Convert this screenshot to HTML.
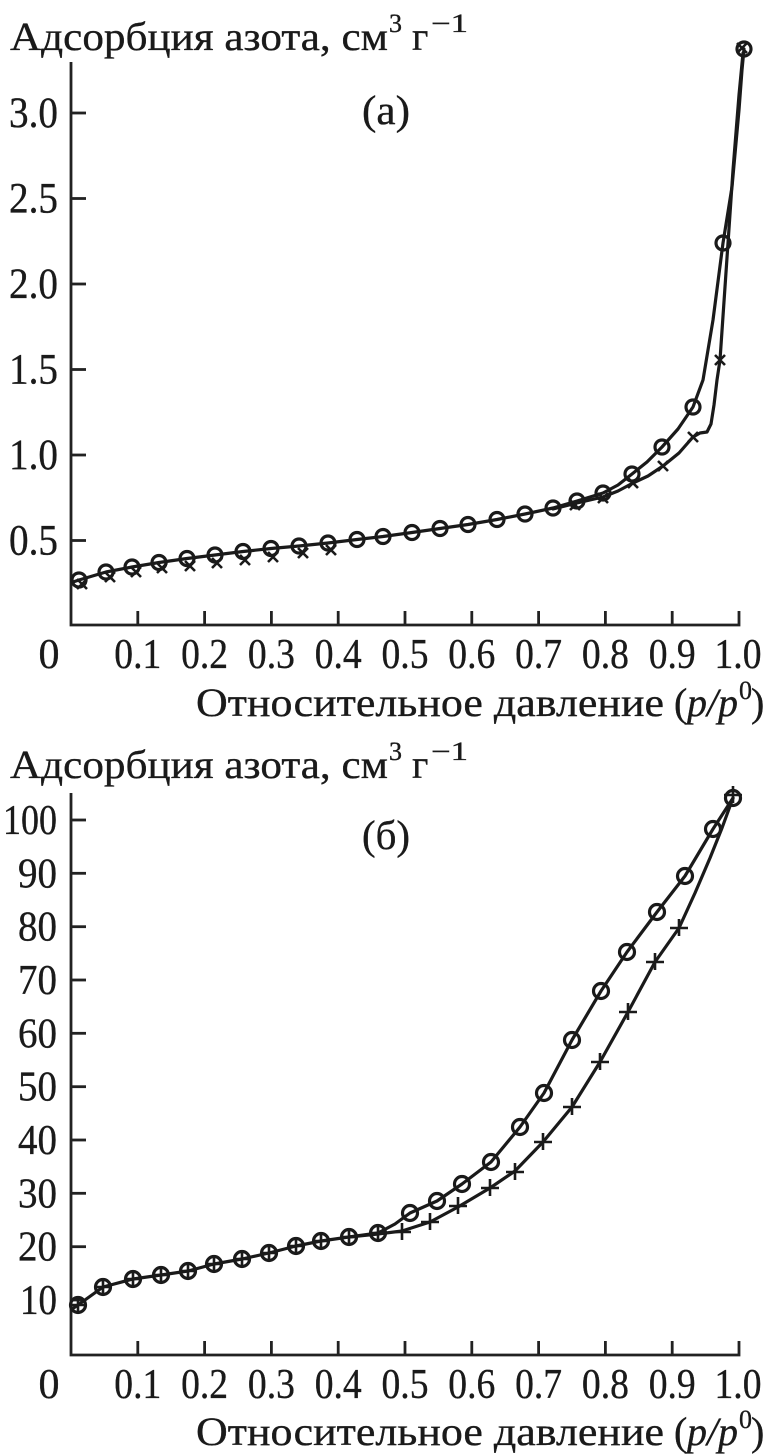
<!DOCTYPE html>
<html>
<head>
<meta charset="utf-8">
<style>
html,body{margin:0;padding:0;background:#fff;}
svg{display:block;}
text{font-family:"Liberation Serif","DejaVu Serif",serif;fill:#1a1a1a;stroke:#1a1a1a;stroke-width:0.35;}
</style>
</head>
<body>
<svg width="765" height="1455" viewBox="0 0 765 1455" xmlns="http://www.w3.org/2000/svg">
<g stroke="#222" stroke-width="2.8" fill="none" stroke-linecap="butt">
  <polyline points="71,62 71,625 739,625 739,611"/>
  <line x1="71" y1="113" x2="86" y2="113"/>
  <line x1="71" y1="198.5" x2="86" y2="198.5"/>
  <line x1="71" y1="284" x2="86" y2="284"/>
  <line x1="71" y1="369.5" x2="86" y2="369.5"/>
  <line x1="71" y1="455" x2="86" y2="455"/>
  <line x1="71" y1="540.5" x2="86" y2="540.5"/>
  <line x1="137.8" y1="625" x2="137.8" y2="611"/>
  <line x1="204.6" y1="625" x2="204.6" y2="611"/>
  <line x1="271.4" y1="625" x2="271.4" y2="611"/>
  <line x1="338.2" y1="625" x2="338.2" y2="611"/>
  <line x1="405" y1="625" x2="405" y2="611"/>
  <line x1="471.8" y1="625" x2="471.8" y2="611"/>
  <line x1="538.6" y1="625" x2="538.6" y2="611"/>
  <line x1="605.4" y1="625" x2="605.4" y2="611"/>
  <line x1="672.2" y1="625" x2="672.2" y2="611"/>

  <polyline points="71,793 71,1355 739,1355 739,1341"/>
  <line x1="71" y1="820" x2="86" y2="820"/>
  <line x1="71" y1="873.3" x2="86" y2="873.3"/>
  <line x1="71" y1="926.7" x2="86" y2="926.7"/>
  <line x1="71" y1="980" x2="86" y2="980"/>
  <line x1="71" y1="1033.3" x2="86" y2="1033.3"/>
  <line x1="71" y1="1086.7" x2="86" y2="1086.7"/>
  <line x1="71" y1="1140" x2="86" y2="1140"/>
  <line x1="71" y1="1193.3" x2="86" y2="1193.3"/>
  <line x1="71" y1="1246.7" x2="86" y2="1246.7"/>
  <line x1="71" y1="1300" x2="86" y2="1300"/>
  <line x1="137.8" y1="1355" x2="137.8" y2="1341"/>
  <line x1="204.6" y1="1355" x2="204.6" y2="1341"/>
  <line x1="271.4" y1="1355" x2="271.4" y2="1341"/>
  <line x1="338.2" y1="1355" x2="338.2" y2="1341"/>
  <line x1="405" y1="1355" x2="405" y2="1341"/>
  <line x1="471.8" y1="1355" x2="471.8" y2="1341"/>
  <line x1="538.6" y1="1355" x2="538.6" y2="1341"/>
  <line x1="605.4" y1="1355" x2="605.4" y2="1341"/>
  <line x1="672.2" y1="1355" x2="672.2" y2="1341"/>
</g>

<g stroke="#1a1a1a" stroke-width="3.2" fill="none" stroke-linejoin="round" stroke-linecap="round">
  <polyline points="73,582 79,580 106,572 132,567 159,562.5 187,558.5 215,555 243,551.5 271,548.5 299,546 328,543 357,539.5 383,536.5 412,532.5 440,528.5 468,524.5 497,519.5 525,514 553,508 577,501 603,493 618,485 632,474 647,462 662,447 678,429 693,407 703,380 713,320 723,243 732,187 739,110 742,70 744,49"/>
  <polyline points="553,509 577,503 603,497 618,491 633,483 648,476 663,466 679,453 693,437 700,433 707,432 711,424 714,405 717,380 720,360 725,287 733,170 739,95 743,53"/>
</g>
<g stroke="#1a1a1a" stroke-width="3.2" fill="none">
  <circle cx="79" cy="580" r="7"/>
  <circle cx="106" cy="572" r="7"/>
  <circle cx="132" cy="567" r="7"/>
  <circle cx="159" cy="562.5" r="7"/>
  <circle cx="187" cy="558.5" r="7"/>
  <circle cx="215" cy="555" r="7"/>
  <circle cx="243" cy="551.5" r="7"/>
  <circle cx="271" cy="548.5" r="7"/>
  <circle cx="299" cy="546" r="7"/>
  <circle cx="328" cy="543" r="7"/>
  <circle cx="357" cy="539.5" r="7"/>
  <circle cx="383" cy="536.5" r="7"/>
  <circle cx="412" cy="532.5" r="7"/>
  <circle cx="440" cy="528.5" r="7"/>
  <circle cx="468" cy="524.5" r="7"/>
  <circle cx="497" cy="519.5" r="7"/>
  <circle cx="525" cy="514" r="7"/>
  <circle cx="553" cy="508" r="7"/>
  <circle cx="577" cy="501" r="7"/>
  <circle cx="603" cy="493" r="7"/>
  <circle cx="632" cy="474" r="7"/>
  <circle cx="662" cy="447" r="7"/>
  <circle cx="693" cy="407" r="7"/>
  <circle cx="723" cy="243" r="7"/>
  <circle cx="744" cy="49" r="7"/>
</g>
<g stroke="#1a1a1a" stroke-width="2.6" fill="none">
  <path d="M77,579 l10,10 M87,579 l-10,10"/>
  <path d="M105,572 l10,10 M115,572 l-10,10"/>
  <path d="M131,567 l10,10 M141,567 l-10,10"/>
  <path d="M157,563 l10,10 M167,563 l-10,10"/>
  <path d="M185,561 l10,10 M195,561 l-10,10"/>
  <path d="M212,558 l10,10 M222,558 l-10,10"/>
  <path d="M240,555 l10,10 M250,555 l-10,10"/>
  <path d="M268,552 l10,10 M278,552 l-10,10"/>
  <path d="M298,548 l10,10 M308,548 l-10,10"/>
  <path d="M326,545 l10,10 M336,545 l-10,10"/>
  <path d="M570,500 l10,10 M580,500 l-10,10"/>
  <path d="M598,493 l10,10 M608,493 l-10,10"/>
  <path d="M628,478 l10,10 M638,478 l-10,10"/>
  <path d="M658,461 l10,10 M668,461 l-10,10"/>
  <path d="M688,432 l10,10 M698,432 l-10,10"/>
  <path d="M715,355 l10,10 M725,355 l-10,10"/>
  <path d="M737,43 l10,10 M747,43 l-10,10"/>
</g>

<g stroke="#1a1a1a" stroke-width="3.2" fill="none" stroke-linejoin="round" stroke-linecap="round">
  <polyline points="72,1309 78,1305 103,1287 133,1279 161,1275 188,1271 214,1264 242,1259 269,1253 296,1246 321,1241 349,1237 378,1233 395,1224 410,1213 437,1201 462,1184 491,1162 520,1127 544,1093 572,1040 601,991 627,952 657,912 685,876 713,829 733,798"/>
  <polyline points="349,1237 378,1234 402,1231 430,1222 458,1207 490,1188 515,1171 543,1142 572,1107 600,1062 628,1012 655,962 679,928 695,893 710,858 722,828 733,798"/>
</g>
<g stroke="#1a1a1a" stroke-width="3.2" fill="none">
  <circle cx="78" cy="1305" r="7.5"/>
  <circle cx="103" cy="1287" r="7.5"/>
  <circle cx="133" cy="1279" r="7.5"/>
  <circle cx="161" cy="1275" r="7.5"/>
  <circle cx="188" cy="1271" r="7.5"/>
  <circle cx="214" cy="1264" r="7.5"/>
  <circle cx="242" cy="1259" r="7.5"/>
  <circle cx="269" cy="1253" r="7.5"/>
  <circle cx="296" cy="1246" r="7.5"/>
  <circle cx="321" cy="1241" r="7.5"/>
  <circle cx="349" cy="1237" r="7.5"/>
  <circle cx="378" cy="1233" r="7.5"/>
  <circle cx="410" cy="1213" r="7.5"/>
  <circle cx="437" cy="1201" r="7.5"/>
  <circle cx="462" cy="1184" r="7.5"/>
  <circle cx="491" cy="1162" r="7.5"/>
  <circle cx="520" cy="1127" r="7.5"/>
  <circle cx="544" cy="1093" r="7.5"/>
  <circle cx="572" cy="1040" r="7.5"/>
  <circle cx="601" cy="991" r="7.5"/>
  <circle cx="627" cy="952" r="7.5"/>
  <circle cx="657" cy="912" r="7.5"/>
  <circle cx="685" cy="876" r="7.5"/>
  <circle cx="713" cy="829" r="7.5"/>
  <circle cx="733" cy="798" r="7.5"/>
</g>
<g stroke="#1a1a1a" stroke-width="2.6" fill="none">
  <path d="M78,1299 v12 M72,1305 h12"/>
  <path d="M103,1281 v12 M97,1287 h12"/>
  <path d="M133,1273 v12 M127,1279 h12"/>
  <path d="M161,1269 v12 M155,1275 h12"/>
  <path d="M188,1265 v12 M182,1271 h12"/>
  <path d="M214,1258 v12 M208,1264 h12"/>
  <path d="M242,1253 v12 M236,1259 h12"/>
  <path d="M269,1247 v12 M263,1253 h12"/>
  <path d="M296,1240 v12 M290,1246 h12"/>
  <path d="M321,1235 v12 M315,1241 h12"/>
  <path d="M349,1231 v12 M343,1237 h12"/>
  <path d="M378,1227 v12 M372,1233 h12"/>
  <path d="M402,1223 v17 M393,1232 h18"/>
  <path d="M430,1213 v17 M421,1222 h18"/>
  <path d="M458,1197 v17 M449,1206 h18"/>
  <path d="M490,1179 v17 M481,1188 h18"/>
  <path d="M515,1163 v17 M506,1172 h18"/>
  <path d="M543,1133 v17 M534,1142 h18"/>
  <path d="M572,1098 v17 M563,1107 h18"/>
  <path d="M600,1053 v17 M591,1062 h18"/>
  <path d="M628,1003 v17 M619,1012 h18"/>
  <path d="M655,953 v17 M646,962 h18"/>
  <path d="M679,919 v17 M670,928 h18"/>
  <path d="M733,786 v17 M724,795 h18"/>
</g>

<!-- Top chart text -->
<text x="10" y="50" font-size="40" textLength="378" lengthAdjust="spacingAndGlyphs">Адсорбция азота, см</text>
<text x="389" y="32" font-size="26">3</text>
<text x="412" y="50" font-size="40">г</text>
<text x="431" y="32" font-size="26" textLength="37" lengthAdjust="spacingAndGlyphs">−1</text>
<text x="362" y="124" font-size="41" textLength="48" lengthAdjust="spacingAndGlyphs">(а)</text>

<g font-size="43" text-anchor="end">
  <text x="58" y="127" textLength="49" lengthAdjust="spacingAndGlyphs">3.0</text>
  <text x="58" y="212.5" textLength="49" lengthAdjust="spacingAndGlyphs">2.5</text>
  <text x="58" y="298" textLength="49" lengthAdjust="spacingAndGlyphs">2.0</text>
  <text x="58" y="383.5" textLength="49" lengthAdjust="spacingAndGlyphs">1.5</text>
  <text x="58" y="469" textLength="49" lengthAdjust="spacingAndGlyphs">1.0</text>
  <text x="58" y="554.5" textLength="49" lengthAdjust="spacingAndGlyphs">0.5</text>
</g>
<g font-size="42" text-anchor="middle">
  <text x="49" y="668">0</text>
  <text x="137.8" y="668" textLength="47" lengthAdjust="spacingAndGlyphs">0.1</text>
  <text x="204.6" y="668" textLength="47" lengthAdjust="spacingAndGlyphs">0.2</text>
  <text x="271.4" y="668" textLength="47" lengthAdjust="spacingAndGlyphs">0.3</text>
  <text x="338.2" y="668" textLength="47" lengthAdjust="spacingAndGlyphs">0.4</text>
  <text x="405" y="668" textLength="47" lengthAdjust="spacingAndGlyphs">0.5</text>
  <text x="471.8" y="668" textLength="47" lengthAdjust="spacingAndGlyphs">0.6</text>
  <text x="538.6" y="668" textLength="47" lengthAdjust="spacingAndGlyphs">0.7</text>
  <text x="605.4" y="668" textLength="47" lengthAdjust="spacingAndGlyphs">0.8</text>
  <text x="672.2" y="668" textLength="47" lengthAdjust="spacingAndGlyphs">0.9</text>
  <text x="738" y="668" textLength="47" lengthAdjust="spacingAndGlyphs">1.0</text>
</g>
<text x="196" y="716" font-size="40" textLength="468" lengthAdjust="spacingAndGlyphs">Относительное давление</text>
<text x="674" y="716" font-size="40">(</text>
<text x="687" y="716" font-size="40" font-style="italic" textLength="51" lengthAdjust="spacingAndGlyphs">p/p</text>
<text x="739" y="699" font-size="26">0</text>
<text x="751" y="716" font-size="40">)</text>

<!-- Bottom chart text -->
<text x="10" y="778" font-size="40" textLength="378" lengthAdjust="spacingAndGlyphs">Адсорбция азота, см</text>
<text x="389" y="760" font-size="26">3</text>
<text x="412" y="778" font-size="40">г</text>
<text x="431" y="760" font-size="26" textLength="37" lengthAdjust="spacingAndGlyphs">−1</text>
<text x="362" y="849" font-size="41" textLength="48" lengthAdjust="spacingAndGlyphs">(б)</text>

<g font-size="42" text-anchor="end">
  <text x="57" y="834" textLength="54" lengthAdjust="spacingAndGlyphs">100</text>
  <text x="57" y="887.3" textLength="39" lengthAdjust="spacingAndGlyphs">90</text>
  <text x="57" y="940.7" textLength="39" lengthAdjust="spacingAndGlyphs">80</text>
  <text x="57" y="994" textLength="39" lengthAdjust="spacingAndGlyphs">70</text>
  <text x="57" y="1047.3" textLength="39" lengthAdjust="spacingAndGlyphs">60</text>
  <text x="57" y="1100.7" textLength="39" lengthAdjust="spacingAndGlyphs">50</text>
  <text x="57" y="1154" textLength="39" lengthAdjust="spacingAndGlyphs">40</text>
  <text x="57" y="1207.3" textLength="39" lengthAdjust="spacingAndGlyphs">30</text>
  <text x="57" y="1260.7" textLength="39" lengthAdjust="spacingAndGlyphs">20</text>
  <text x="57" y="1314" textLength="37" lengthAdjust="spacingAndGlyphs">10</text>
</g>
<g font-size="42" text-anchor="middle">
  <text x="49" y="1398">0</text>
  <text x="137.8" y="1398" textLength="47" lengthAdjust="spacingAndGlyphs">0.1</text>
  <text x="204.6" y="1398" textLength="47" lengthAdjust="spacingAndGlyphs">0.2</text>
  <text x="271.4" y="1398" textLength="47" lengthAdjust="spacingAndGlyphs">0.3</text>
  <text x="338.2" y="1398" textLength="47" lengthAdjust="spacingAndGlyphs">0.4</text>
  <text x="405" y="1398" textLength="47" lengthAdjust="spacingAndGlyphs">0.5</text>
  <text x="471.8" y="1398" textLength="47" lengthAdjust="spacingAndGlyphs">0.6</text>
  <text x="538.6" y="1398" textLength="47" lengthAdjust="spacingAndGlyphs">0.7</text>
  <text x="605.4" y="1398" textLength="47" lengthAdjust="spacingAndGlyphs">0.8</text>
  <text x="672.2" y="1398" textLength="47" lengthAdjust="spacingAndGlyphs">0.9</text>
  <text x="738" y="1398" textLength="47" lengthAdjust="spacingAndGlyphs">1.0</text>
</g>
<text x="196" y="1445" font-size="40" textLength="468" lengthAdjust="spacingAndGlyphs">Относительное давление</text>
<text x="674" y="1445" font-size="40">(</text>
<text x="687" y="1445" font-size="40" font-style="italic" textLength="51" lengthAdjust="spacingAndGlyphs">p/p</text>
<text x="739" y="1428" font-size="26">0</text>
<text x="751" y="1445" font-size="40">)</text>
</svg>
</body>
</html>
